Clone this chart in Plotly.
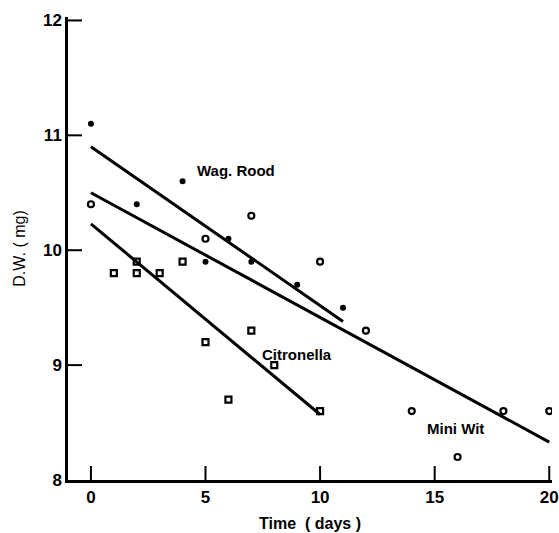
import plotly.graph_objects as go

# Data
wag_x = [0, 2, 4, 5, 6, 7, 9, 11]
wag_y = [11.1, 10.4, 10.6, 9.9, 10.1, 9.9, 9.7, 9.5]

cit_x = [1, 2, 2, 3, 4, 5, 6, 7, 8, 10]
cit_y = [9.8, 9.9, 9.8, 9.8, 9.9, 9.2, 8.7, 9.3, 9.0, 8.6]

mini_x = [0, 5, 7, 10, 12, 14, 16, 18, 20]
mini_y = [10.4, 10.1, 10.3, 9.9, 9.3, 8.6, 8.2, 8.6, 8.6]

# Regression line endpoints
wag_line_x = [0, 11]
wag_line_y = [10.9, 9.38]
cit_line_x = [0, 10]
cit_line_y = [10.23, 8.57]
mini_line_x = [0, 20]
mini_line_y = [10.5, 8.33]

x_ticks = [0, 5, 10, 15, 20]
y_ticks = [8, 9, 10, 11, 12]

labels = ["Wag. Rood", "Citronella", "Mini Wit"]
label_x = [6.35, 9.0, 15.9]
label_y = [10.69, 9.09, 8.45]

x_range = [-1, 20.12]
y_range = [8, 12.03]

FONT = "Liberation Sans"

fig = go.Figure()
for lx, ly in [(wag_line_x, wag_line_y), (cit_line_x, cit_line_y), (mini_line_x, mini_line_y)]:
    fig.add_trace(go.Scatter(x=lx, y=ly, mode="lines",
                             line=dict(color="black", width=3), showlegend=False))

fig.add_trace(go.Scatter(x=wag_x, y=wag_y, mode="markers", showlegend=False,
                         marker=dict(symbol="circle", size=6, color="black")))
fig.add_trace(go.Scatter(x=cit_x, y=cit_y, mode="markers", showlegend=False,
                         marker=dict(symbol="square-open", size=6, color="black",
                                     line=dict(width=2.2, color="black"))))
fig.add_trace(go.Scatter(x=mini_x, y=mini_y, mode="markers", showlegend=False,
                         marker=dict(symbol="circle-open", size=6, color="black",
                                     line=dict(width=2.2, color="black"))))

# Inward tick marks, placed at the tick values on each axis line (clipped to the plot area)
fig.add_trace(go.Scatter(x=x_ticks, y=[y_range[0]] * len(x_ticks), mode="markers",
                         showlegend=False, hoverinfo="skip", cliponaxis=True,
                         marker=dict(symbol="line-ns", size=20, color="black",
                                     line=dict(width=2, color="black"))))
fig.add_trace(go.Scatter(x=[x_range[0]] * len(y_ticks[1:]), y=y_ticks[1:], mode="markers",
                         showlegend=False, hoverinfo="skip", cliponaxis=True,
                         marker=dict(symbol="line-ew", size=20, color="black",
                                     line=dict(width=2, color="black"))))

for t, x, y in zip(labels, label_x, label_y):
    fig.add_annotation(x=x, y=y, text=t, showarrow=False,
                       font=dict(family=FONT, size=15, color="black", weight="bold"))

tickfont = dict(family=FONT, size=17, color="black", weight="bold")

fig.update_layout(
    width=559, height=533,
    margin=dict(l=68, r=7, t=17, b=53, autoexpand=False),
    plot_bgcolor="white",
    xaxis=dict(range=x_range, tickvals=x_ticks, ticks="",
               showline=True, linewidth=2.5, linecolor="black",
               showgrid=False, zeroline=False,
               tickfont=tickfont,
               title=dict(text="Time  ( days )", standoff=12,
                          font=dict(family=FONT, size=16, color="black", weight="bold"))),
    yaxis=dict(range=y_range, tickvals=y_ticks, ticks="",
               showline=True, linewidth=2.5, linecolor="black",
               showgrid=False, zeroline=False,
               tickfont=tickfont,
               title=dict(text="D.W. ( mg)", standoff=14,
                          font=dict(family=FONT, size=16, color="black"))),
)

fig.write_html("out.html")
